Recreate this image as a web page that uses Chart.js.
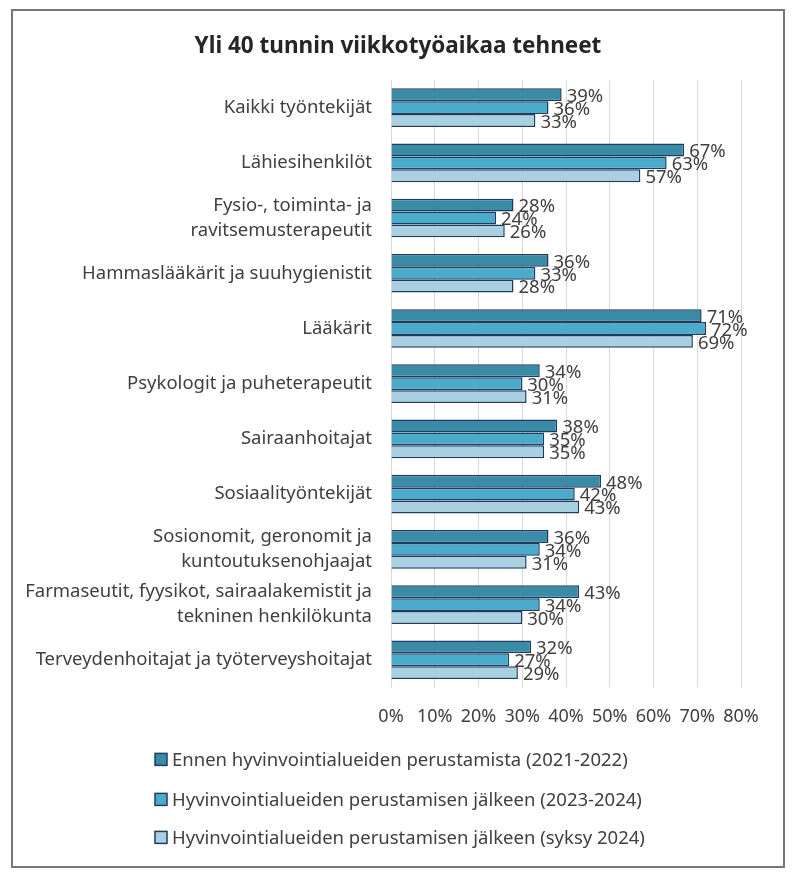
<!DOCTYPE html>
<html>
<head>
<meta charset="utf-8">
<script src="https://cdn.jsdelivr.net/npm/chart.js@4"></script>
<style>
  html, body { margin: 0; padding: 0; background: #ffffff; }
  #frame { position: absolute; left: 11px; top: 9px; width: 770px; height: 855px; border: 2px solid #777777; background: #fff; }
  #wrap { position: absolute; left: 0; top: 0; width: 770px; height: 855px; }
</style>
</head>
<body>
<div id="frame"><div id="wrap"><canvas id="c"></canvas></div></div>
<script>
const categories = [
  "Kaikki työntekijät",
  "Lähiesihenkilöt",
  ["Fysio-, toiminta- ja", "ravitsemusterapeutit"],
  "Hammaslääkärit ja suuhygienistit",
  "Lääkärit",
  "Psykologit ja puheterapeutit",
  "Sairaanhoitajat",
  "Sosiaalityöntekijät",
  ["Sosionomit, geronomit ja", "kuntoutuksenohjaajat"],
  ["Farmaseutit, fyysikot, sairaalakemistit ja", "tekninen henkilökunta"],
  "Terveydenhoitajat ja työterveyshoitajat"
];
const seriesNames = [
  "Ennen hyvinvointialueiden perustamista (2021-2022)",
  "Hyvinvointialueiden perustamisen jälkeen (2023-2024)",
  "Hyvinvointialueiden perustamisen jälkeen (syksy 2024)"
];
const before2122 = [39, 67, 28, 36, 71, 34, 38, 48, 36, 43, 32];
const after2324  = [36, 63, 24, 33, 72, 30, 35, 42, 34, 34, 27];
const autumn2024 = [33, 57, 26, 28, 69, 31, 35, 43, 31, 30, 29];
const xTicks = [0, 10, 20, 30, 40, 50, 60, 70, 80];

const colors = ["#3a8ba6", "#4aacca", "#a8d0e1"];
const edge = "#1e3d62";
const FONT = "'Noto Sans', sans-serif";
const PAD_L = 8;
const PAD_R = 8;
const PLOT_LEFT = 378;
const RIGHT_GAP = 42;

const valueLabels = {
  id: "valueLabels",
  afterDatasetsDraw(chart) {
    const ctx = chart.ctx;
    ctx.save();
    ctx.font = "18.5px " + FONT;
    ctx.fillStyle = "#404040";
    ctx.textAlign = "left";
    ctx.textBaseline = "middle";
    chart.data.datasets.forEach((ds, i) => {
      const meta = chart.getDatasetMeta(i);
      meta.data.forEach((el, j) => {
        ctx.fillText(ds.data[j] + "%", el.x + 5, el.y + 2);
      });
    });
    ctx.restore();
  }
};

const stackedLegend = {
  id: "stackedLegend",
  afterDraw(chart) {
    const ctx = chart.ctx;
    const area = chart.chartArea;
    ctx.save();
    ctx.font = "18.5px " + FONT;
    ctx.textBaseline = "middle";
    ctx.textAlign = "left";
    const rowOffsets = [72, 112, 150];
    const boxX = 142;
    chart.data.datasets.forEach((ds, i) => {
      const y = area.bottom + rowOffsets[i];
      ctx.fillStyle = ds.backgroundColor;
      ctx.fillRect(boxX, y - 6, 12, 12);
      ctx.strokeStyle = ds.borderColor;
      ctx.lineWidth = 1.5;
      ctx.strokeRect(boxX, y - 6, 12, 12);
      ctx.fillStyle = "#404040";
      ctx.fillText(ds.label, boxX + 17, y + 1);
    });
    ctx.restore();
  }
};

new Chart(document.getElementById("c"), {
  type: "bar",
  data: {
    labels: categories,
    datasets: [before2122, after2324, autumn2024].map((d, i) => ({
      label: seriesNames[i],
      data: d,
      backgroundColor: colors[i],
      borderColor: edge,
      borderWidth: 1.5,
      borderSkipped: "start",
      categoryPercentage: 0.70,
      barPercentage: 1.0
    }))
  },
  options: {
    indexAxis: "y",
    responsive: true,
    maintainAspectRatio: false,
    animation: false,
    layout: { padding: { left: PAD_L, right: PAD_R, top: 10, bottom: 119 } },
    scales: {
      x: {
        min: 0, max: 80,
        afterBuildTicks: (axis) => { axis.ticks = xTicks.map(v => ({ value: v })); },
        afterFit: (axis) => { axis.paddingRight = RIGHT_GAP; },
        ticks: { callback: v => v + "%", color: "#404040", font: { family: FONT, size: 18 }, padding: 19 },
        grid: { color: "#d9d9d9", lineWidth: 1, drawTicks: false },
        border: { display: false }
      },
      y: {
        afterFit: (axis) => { axis.width = PLOT_LEFT - PAD_L; },
        ticks: { color: "#404040", font: { family: FONT, size: 18.5, lineHeight: 1.35 }, padding: 11 },
        grid: { display: false },
        border: { display: true, color: "#d9d9d9", width: 1 }
      }
    },
    plugins: {
      title: {
        display: true,
        text: "Yli 40 tunnin viikkotyöaikaa tehneet",
        color: "#262626",
        font: { family: FONT, size: 22.5, weight: "bold" },
        padding: { top: 12, bottom: 20 }
      },
      legend: { display: false },
      tooltip: { enabled: false }
    }
  },
  plugins: [valueLabels, stackedLegend]
});
</script>
</body>
</html>
